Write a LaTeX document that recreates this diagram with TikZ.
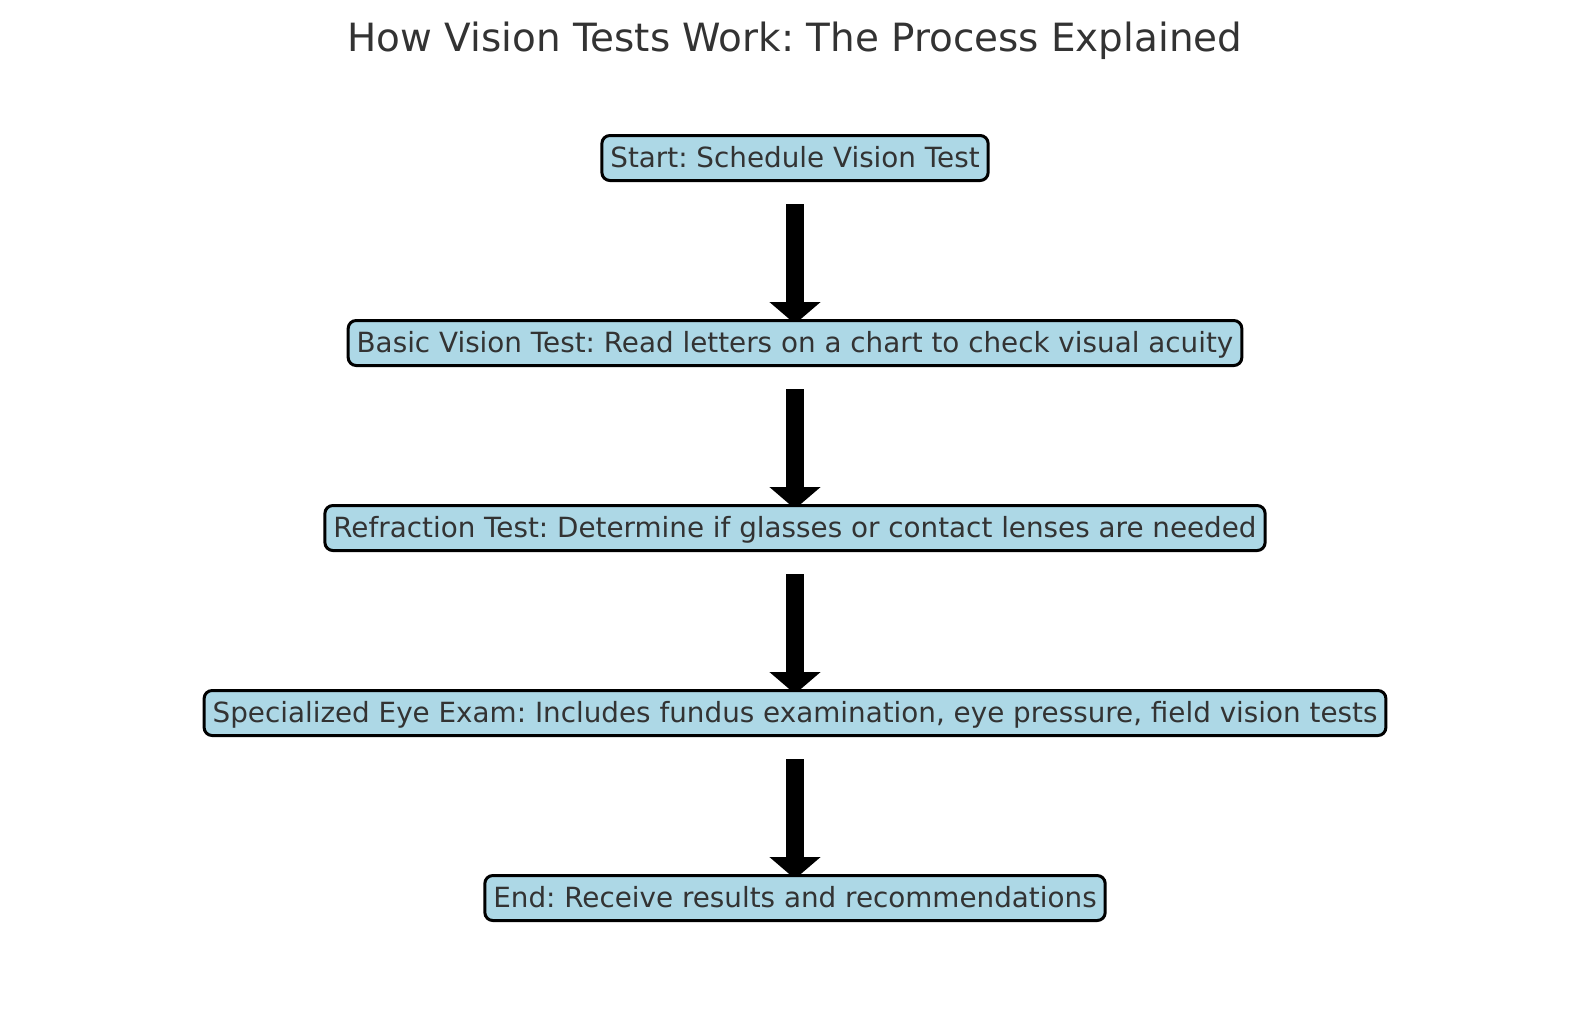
\documentclass[tikz,border=0pt]{standalone}
\usepackage{fontspec}
\setmainfont{DejaVu Sans}
\frenchspacing
\usetikzlibrary{arrows.meta,backgrounds}
\definecolor{boxfill}{RGB}{173,216,230}
\definecolor{txt}{RGB}{51,51,51}
\tikzset{
  stepbox/.style={draw=black, line width=3pt, fill=boxfill, rounded corners=8pt,
    text=txt, font=\fontsize{27.8}{33}\selectfont, inner xsep=8.5pt, inner ysep=9pt,
    text height=22.5pt, text depth=4.5pt},
  flowarrow/.style={line width=18pt, draw=black, shorten <=22pt, shorten >=-5pt,
    -{Triangle[width=50pt,length=22pt]}}
}
\begin{document}
\begin{tikzpicture}[x=1pt,y=-1pt]
\useasboundingbox (0,0) rectangle (1589,1010);
\node[text=txt, font=\fontsize{38.9}{46}\selectfont] (title) at (795,40.5) {How Vision Tests Work: The Process Explained};
\node[stepbox] (n1) at (795,158) {Start: Schedule Vision Test};
\node[stepbox] (n2) at (795,343) {Basic Vision Test: Read letters on a chart to check visual acuity};
\node[stepbox] (n3) at (795,528) {Refraction Test: Determine if glasses or contact lenses are needed};
\node[stepbox] (n4) at (795,713) {Specialized Eye Exam: Includes fundus examination, eye pressure, field vision tests};
\node[stepbox] (n5) at (795,898) {End: Receive results and recommendations};
\begin{scope}[on background layer]
\draw[flowarrow] (n1.south) -- (n2.north);
\draw[flowarrow] (n2.south) -- (n3.north);
\draw[flowarrow] (n3.south) -- (n4.north);
\draw[flowarrow] (n4.south) -- (n5.north);
\end{scope}
\end{tikzpicture}
\end{document}
